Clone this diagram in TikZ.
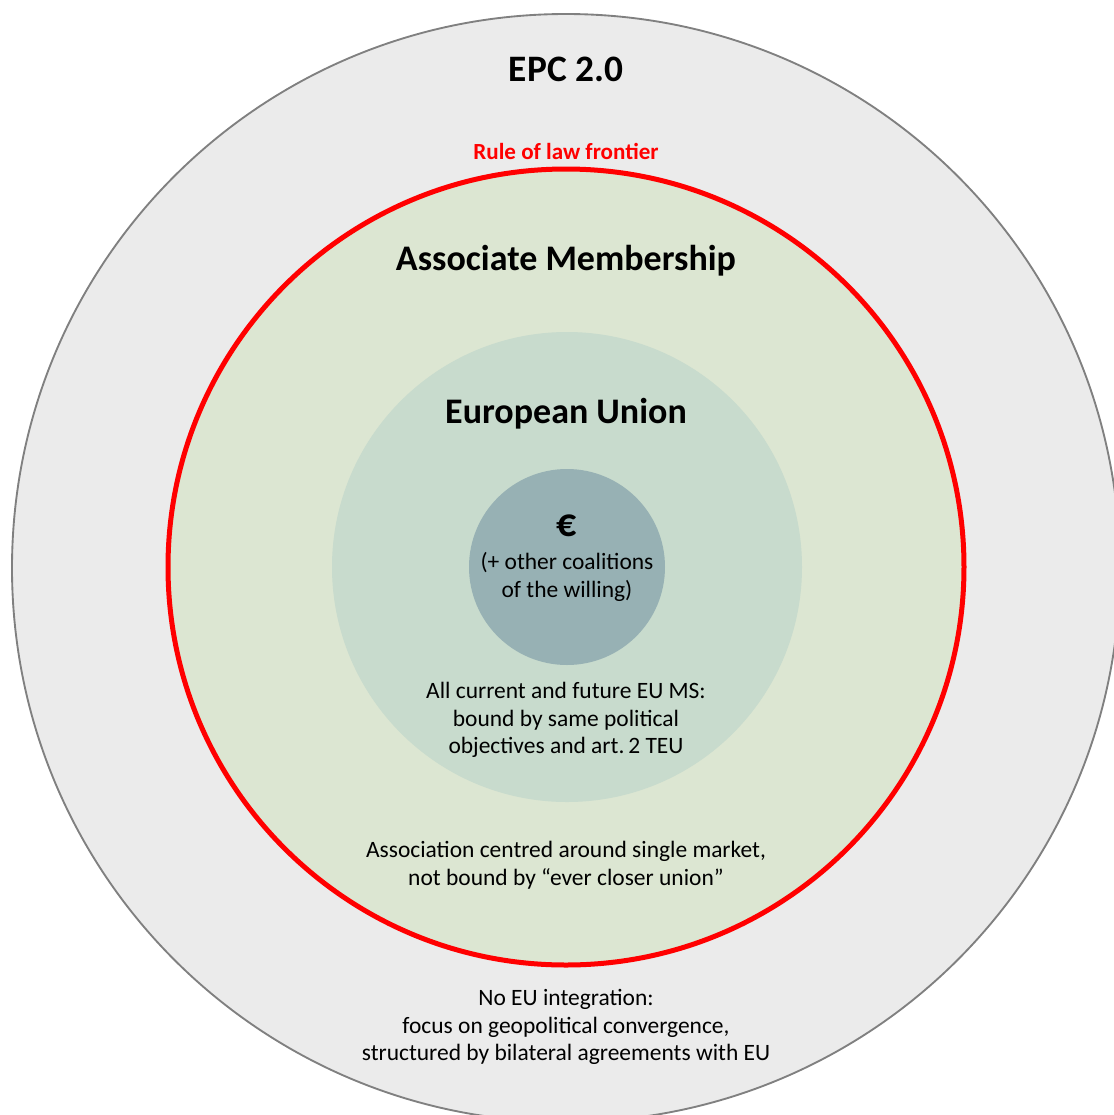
\documentclass[tikz,border=0pt]{standalone}
\usepackage{fontspec}
\setmainfont{Carlito}
\definecolor{epcgray}{HTML}{EBEBEB}
\definecolor{epcline}{HTML}{808080}
\definecolor{assocgreen}{HTML}{DCE6D2}
\definecolor{eugreen}{HTML}{C8DBCD}
\definecolor{eurogray}{HTML}{97B1B4}
\begin{document}
\begin{tikzpicture}[x=0.75pt,y=-0.75pt,
  heading/.style={font=\fontsize{27}{32}\selectfont\bfseries},
  body/.style={align=center,font=\fontsize{17.6}{20.6}\selectfont},
  ring/.style={circle,inner sep=0pt}]
\useasboundingbox (0,0) rectangle (1114,1115);
\node[ring,draw=epcline,line width=1.4pt,fill=epcgray, minimum size=831pt] (EPC) at (566,568) {};
\node[ring,draw=red,line width=3.75pt,fill=assocgreen, minimum size=597pt] (AM) at (566,567) {};
\node[ring,fill=eugreen, minimum size=352.5pt] (EU) at (567,567) {};
\node[ring,fill=eurogray, minimum size=147pt] (EURO) at (567,567) {};
% titles
\node[font=\fontsize{28}{33}\selectfont\bfseries] (epcT) at (566,69) {EPC 2.0};
\node[font=\fontsize{17.3}{20}\selectfont\bfseries, text=red] (rol) at (566,151) {Rule of law frontier};
\node[heading] (amT) at (566,261) {Associate Membership};
\node[heading] (euT) at (566,414) {European Union};
\node[font=\fontsize{30}{34}\selectfont\bfseries] (euroT) at (567,526) {€};
% descriptions
\node[body] (euroD) at (567,577) {(+ other coalitions\\of the willing)};
\node[body] (euD) at (566,720) {All current and future EU MS:\\bound by same political\\objectives and art.\,2 TEU};
\node[body] (amD) at (566,865) {Association centred around single market,\\not bound by “ever closer union”};
\node[body] (epcD) at (566,1027) {No EU integration:\\focus on geopolitical convergence,\\structured by bilateral agreements with EU};
\end{tikzpicture}
\end{document}
